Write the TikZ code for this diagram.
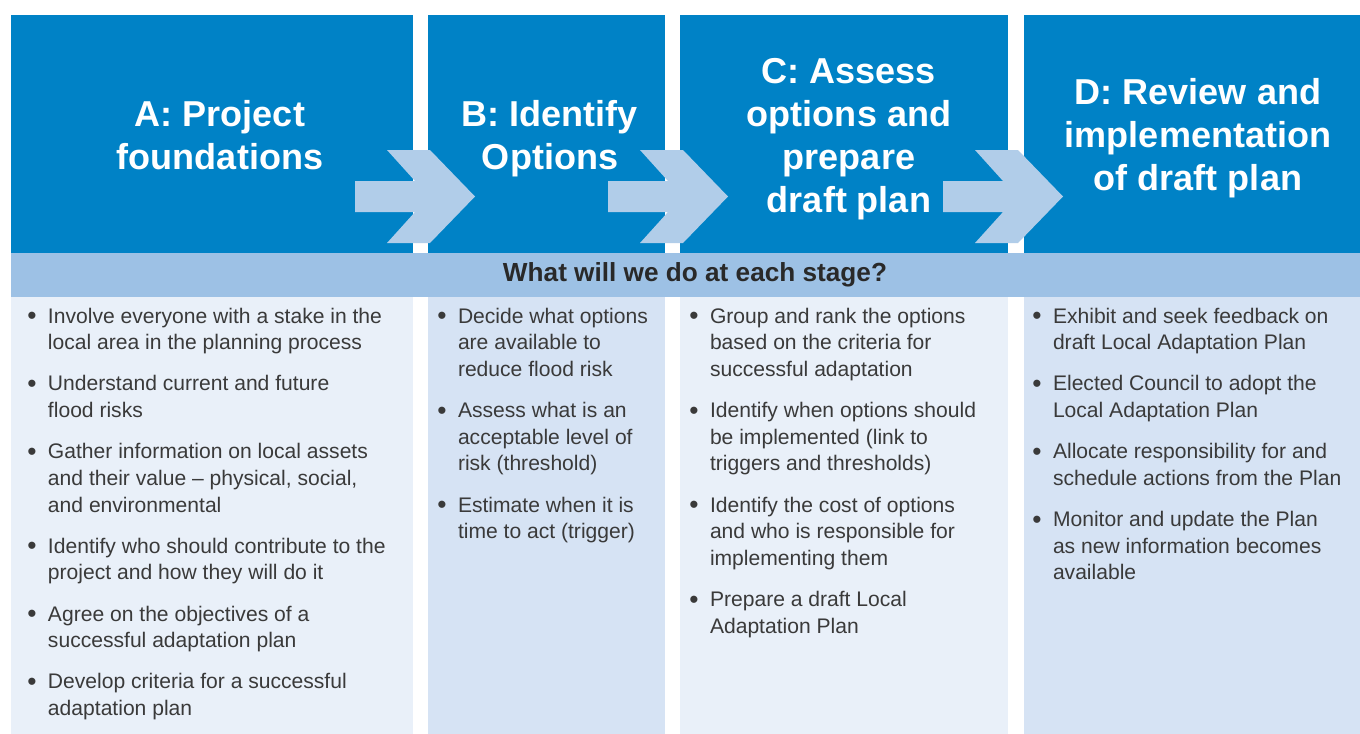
\documentclass[tikz,border=0pt]{standalone}
\usepackage{fontspec}
\setmainfont{Liberation Sans}
\usetikzlibrary{positioning}
\definecolor{stageblue}{HTML}{0082C6}
\definecolor{arrowblue}{HTML}{B1CDE9}
\definecolor{bandblue}{HTML}{9DC1E5}
\definecolor{panelpale}{HTML}{E9F0F9}
\definecolor{paneldeep}{HTML}{D6E3F4}
\definecolor{bodygray}{HTML}{3A3A3A}
\newcommand{\stagept}[1]{\begin{tabular}[t]{@{}l@{\hspace{6.5pt}}l@{}}\raisebox{-0.9pt}{\fontsize{15}{15.2}\selectfont\textbullet}&\begin{tabular}[t]{@{}l@{}}#1\end{tabular}\end{tabular}}

\begin{document}
\begin{tikzpicture}[x=0.02cm,y=-0.02cm,
	title/.style={text=white,align=center,inner sep=0pt,
		font=\fontsize{20.5}{24.4}\selectfont\bfseries},
	item/.style={inner sep=0pt,anchor=north west,text=bodygray,
		font=\fontsize{12}{15.2}\selectfont},
	flow/.style={fill=arrowblue},
]
	\useasboundingbox (0,0) rectangle (1360,734);
	\fill[white] (0,0) rectangle (1360,734);

	% header blocks and panels
	\fill[stageblue] (11,15) rectangle (413,253);
	\fill[stageblue] (428,15) rectangle (665,253);
	\fill[stageblue] (680,15) rectangle (1008,253);
	\fill[stageblue] (1024,15) rectangle (1360,253);
	\fill[panelpale] (11,297) rectangle (413,734);
	\fill[paneldeep] (428,297) rectangle (665,734);
	\fill[panelpale] (680,297) rectangle (1008,734);
	\fill[paneldeep] (1024,297) rectangle (1360,734);
	\fill[bandblue] (11,253) rectangle (1360,297);

	\foreach \t in {475,728,1063}{
		\fill[flow] (\t-120,181) -- (\t-60,181) -- (\t-88,150) -- (\t-45,150)
			-- (\t,196.5) -- (\t-45,243) -- (\t-88,243) -- (\t-60,212)
			-- (\t-120,212) -- cycle;
	}

	\node[title] (tA) at (220,135) {A: Project\\foundations};
	\node[title] (tB) at (550,139) {B: Identify\\Options};
	\node[title] (tC) at (849,139) {C: Assess\\options and\\prepare\\draft plan};
	\node[title] (tD) at (1198,138) {D: Review and\\implementation\\of draft plan};

	\node[text=bodygray!70!black,inner sep=0pt,font=\fontsize{14.9}{18}\selectfont\bfseries]
		(ask) at (695,275) {What will we do at each stage?};

	% column A
	\node[item] (a1) at (27,304) {\stagept{Involve everyone with a stake in the\\local area in the planning process}};
	\node[below=7.8pt of a1.south west,item] (a2) {\stagept{Understand current and future\\flood risks}};
	\node[below=7.8pt of a2.south west,item] (a3) {\stagept{Gather information on local assets\\and their value -- physical, social,\\and environmental}};
	\node[below=7.8pt of a3.south west,item] (a4) {\stagept{Identify who should contribute to the\\project and how they will do it}};
	\node[below=7.8pt of a4.south west,item] (a5) {\stagept{Agree on the objectives of a\\successful adaptation plan}};
	\node[below=7.8pt of a5.south west,item] (a6) {\stagept{Develop criteria for a successful\\adaptation plan}};

	% column B
	\node[item] (b1) at (437,304) {\stagept{Decide what options\\are available to\\reduce flood risk}};
	\node[below=7.8pt of b1.south west,item] (b2) {\stagept{Assess what is an\\acceptable level of\\risk (threshold)}};
	\node[below=7.8pt of b2.south west,item] (b3) {\stagept{Estimate when it is\\time to act (trigger)}};

	% column C
	\node[item] (c1) at (689,304) {\stagept{Group and rank the options\\based on the criteria for\\successful adaptation}};
	\node[below=7.8pt of c1.south west,item] (c2) {\stagept{Identify when options should\\be implemented (link to\\triggers and thresholds)}};
	\node[below=7.8pt of c2.south west,item] (c3) {\stagept{Identify the cost of options\\and who is responsible for\\implementing them}};
	\node[below=7.8pt of c3.south west,item] (c4) {\stagept{Prepare a draft Local\\Adaptation Plan}};

	% column D
	\node[item] (d1) at (1032,304) {\stagept{Exhibit and seek feedback on\\draft Local Adaptation Plan}};
	\node[below=7.8pt of d1.south west,item] (d2) {\stagept{Elected Council to adopt the\\Local Adaptation Plan}};
	\node[below=7.8pt of d2.south west,item] (d3) {\stagept{Allocate responsibility for and\\schedule actions from the Plan}};
	\node[below=7.8pt of d3.south west,item] (d4) {\stagept{Monitor and update the Plan\\as new information becomes\\available}};

\end{tikzpicture}
\end{document}
